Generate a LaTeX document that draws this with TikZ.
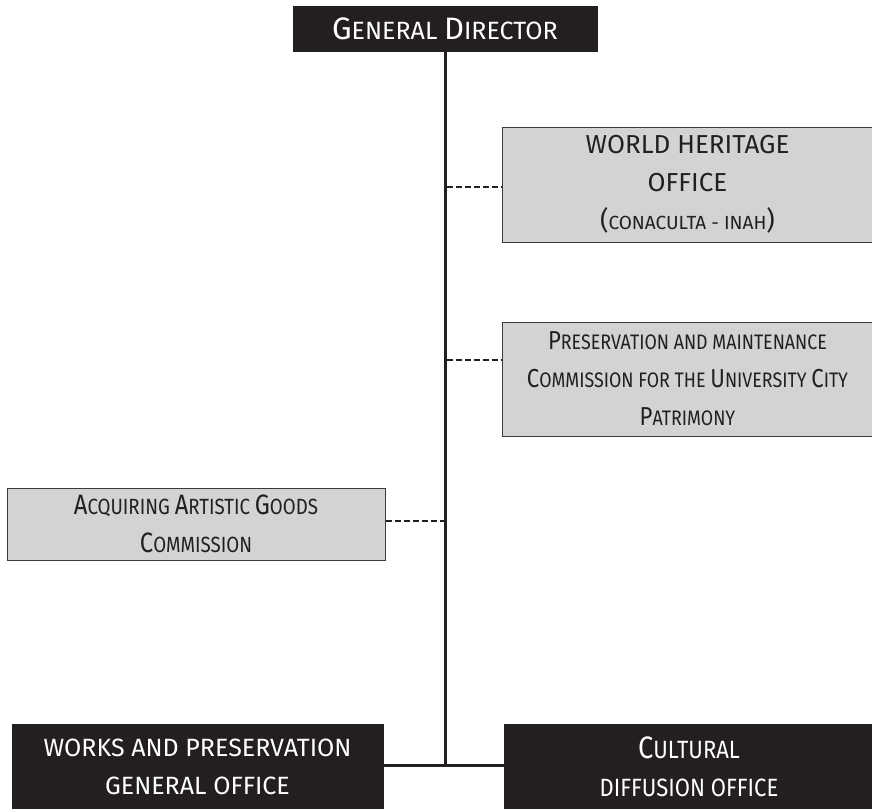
\documentclass[tikz,border=0pt]{standalone}
\usepackage{fontspec}
\setmainfont{Fira Sans}
\newfontfamily\wideF{Fira Sans}
\newfontfamily\narrowF{Fira Sans}[FakeStretch=0.85]
\newfontfamily\midF{Fira Sans}[FakeStretch=0.88]
\definecolor{boxblack}{HTML}{231F20}
\definecolor{boxgray}{HTML}{D1D3D4}
\definecolor{edge}{HTML}{3C3B3B}
\newcommand\sz[1]{\fontsize{#1}{38}\selectfont}
\begin{document}
\begin{tikzpicture}[x=1pt,y=-1pt,
  darkbox/.style={draw=boxblack,fill=boxblack,text=white,inner sep=0pt,align=center,anchor=center},
  graybox/.style={draw=edge,line width=1pt,fill=boxgray,text=boxblack,inner sep=0pt,align=center,anchor=center},
  trunk/.style={line width=3pt,draw=boxblack},
  dashlink/.style={line width=2.5pt,draw=boxblack,dash pattern=on 6pt off 3pt}]
\useasboundingbox (0,0) rectangle (872,808);
\fill[white] (0,0) rectangle (872,808);
% boxes
\node[darkbox,minimum width=304pt,minimum height=45pt,font=\wideF\sz{25}] (gd) at (445,28.5)
  {\sz{31}G\sz{25}ENERAL \sz{31}D\sz{25}IRECTOR};
\node[graybox,minimum width=371pt,minimum height=115pt,font=\wideF\sz{26}] (wh) at (687.5,184.5)
  {WORLD HERITAGE\\ OFFICE\\ (\sz{19}CONACULTA - INAH\sz{26})};
\node[graybox,minimum width=371pt,minimum height=114pt,font=\narrowF\sz{21}] (pr) at (687.5,379)
  {\sz{26}P\sz{21}RESERVATION AND MAINTENANCE\\ \sz{26}C\sz{21}OMMISSION FOR THE \sz{26}U\sz{21}NIVERSITY \sz{26}C\sz{21}ITY\\ \sz{26}P\sz{21}ATRIMONY};
\node[graybox,minimum width=378pt,minimum height=72pt,font=\narrowF\sz{22}] (aq) at (196,524)
  {\sz{28}A\sz{22}CQUIRING \sz{28}A\sz{22}RTISTIC \sz{28}G\sz{22}OODS\\ \sz{28}C\sz{22}OMMISSION};
\node[darkbox,minimum width=371pt,minimum height=86pt,font=\wideF\sz{25}] (wk) at (197.5,767)
  {WORKS AND PRESERVATION\\ GENERAL OFFICE};
\node[darkbox,minimum width=370pt,minimum height=86pt,font=\midF\sz{25}] (cd) at (689,767)
  {\sz{31}C\sz{25}ULTURAL\\ DIFFUSION OFFICE};
% connectors
\coordinate (j) at (445,765);
\draw[trunk] (gd.south) -- (j);
\draw[trunk] (wk.east |- j) -- (cd.west |- j);
\draw[dashlink] (446.5,187) -- (wh.west |- 0,187);
\draw[dashlink] (446.5,360) -- (pr.west |- 0,360);
\draw[dashlink] (aq.east |- 0,521) -- (443.5,521);
\end{tikzpicture}
\end{document}
